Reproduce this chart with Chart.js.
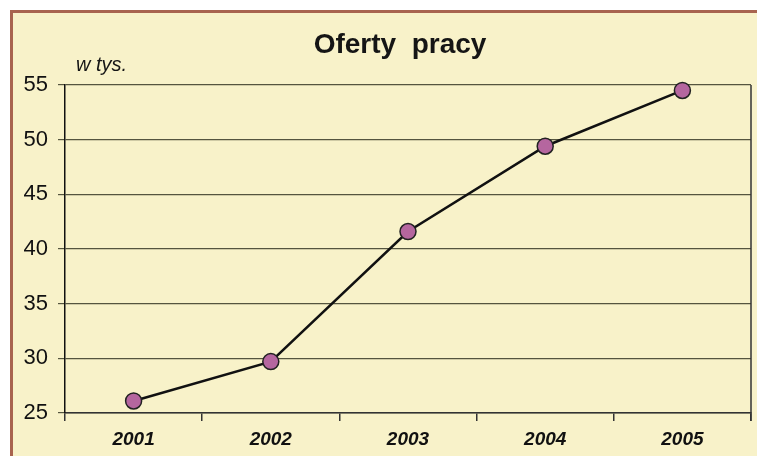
<!DOCTYPE html>
<html>
<head>
<meta charset="utf-8">
<script src="https://cdn.jsdelivr.net/npm/chart.js@4"></script>
<style>
  html, body { margin: 0; padding: 0; background: #ffffff; }
  #wrap { width: 757px; height: 456px; position: relative; }
</style>
</head>
<body>
<div id="wrap"><canvas id="myChart" width="757" height="456"></canvas></div>
<script>
const years = ['2001', '2002', '2003', '2004', '2005']
const offers = [26.1, 29.7, 41.6, 49.4, 54.5]
const yMin = 25
const yMax = 55
const yStep = 5
const titleText = 'Oferty  pracy'
const unitText = 'w tys.'

// cream panel with the brown edge, plus title and unit label
const framePlugin = {
    id: 'frame',
    beforeDraw(chart) {
        const ctx = chart.ctx
        ctx.save()
        ctx.fillStyle = '#ffffff'
        ctx.fillRect(0, 0, chart.width, chart.height)
        ctx.fillStyle = '#f8f2c9'
        ctx.fillRect(10, 10, chart.width - 10, chart.height - 10)
        ctx.strokeStyle = '#a8644f'
        ctx.lineWidth = 3
        ctx.beginPath()
        ctx.moveTo(11.5, chart.height)
        ctx.lineTo(11.5, 11.5)
        ctx.lineTo(chart.width, 11.5)
        ctx.stroke()

        ctx.fillStyle = '#151515'
        ctx.textAlign = 'center'
        ctx.textBaseline = 'alphabetic'
        ctx.font = 'bold 28px "Liberation Sans", Arial, sans-serif'
        ctx.fillText(titleText, 400, 53)
        ctx.textAlign = 'left'
        ctx.font = 'italic 20px "Liberation Sans", Arial, sans-serif'
        ctx.fillText(unitText, 76, 71)
        ctx.restore()
    },
    beforeDatasetsDraw(chart) {
        // right edge of the plot frame
        const a = chart.chartArea
        const ctx = chart.ctx
        ctx.save()
        ctx.strokeStyle = '#333333'
        ctx.lineWidth = 1.5
        ctx.beginPath()
        ctx.moveTo(a.right, a.top)
        ctx.lineTo(a.right, a.bottom + 8)
        ctx.stroke()
        ctx.restore()
    }
}

const ctx = document.getElementById('myChart')
const chart = new Chart(ctx, {
    type: 'line',
    data: {
        labels: years,
        datasets: [{
            label: 'Oferty pracy',
            data: offers,
            borderColor: '#111111',
            borderWidth: 2.5,
            pointBackgroundColor: '#b5669f',
            pointBorderColor: '#222222',
            pointBorderWidth: 1.5,
            pointRadius: 8,
            tension: 0,
            clip: false
        }]
    },
    options: {
        responsive: false,
        animation: false,
        layout: { autoPadding: false, padding: { top: 85, right: 6, left: 0, bottom: 0 } },
        plugins: {
            legend: { display: false },
            title: { display: false },
            tooltip: { enabled: false }
        },
        scales: {
            x: {
                offset: true,
                afterFit: (scale) => { scale.height = 43 },
                grid: {
                    offset: true,
                    drawOnChartArea: false,
                    drawTicks: true,
                    tickLength: 8,
                    color: '#333333',
                    lineWidth: 1.5
                },
                border: { color: '#333333', width: 1.5 },
                ticks: {
                    color: '#111111',
                    padding: 7,
                    font: { family: '"Liberation Sans", Arial, sans-serif', size: 19, weight: 'bold', style: 'italic' }
                }
            },
            y: {
                min: yMin,
                max: yMax,
                afterFit: (scale) => { scale.width = 65 },
                grid: {
                    color: '#55553f',
                    lineWidth: 1.2,
                    tickLength: 7
                },
                border: { color: '#111111', width: 1.5 },
                ticks: {
                    stepSize: yStep,
                    color: '#111111',
                    padding: 10,
                    font: { family: '"Liberation Sans", Arial, sans-serif', size: 22 }
                }
            }
        }
    },
    plugins: [framePlugin]
})
chart.update()
</script>
</body>
</html>
